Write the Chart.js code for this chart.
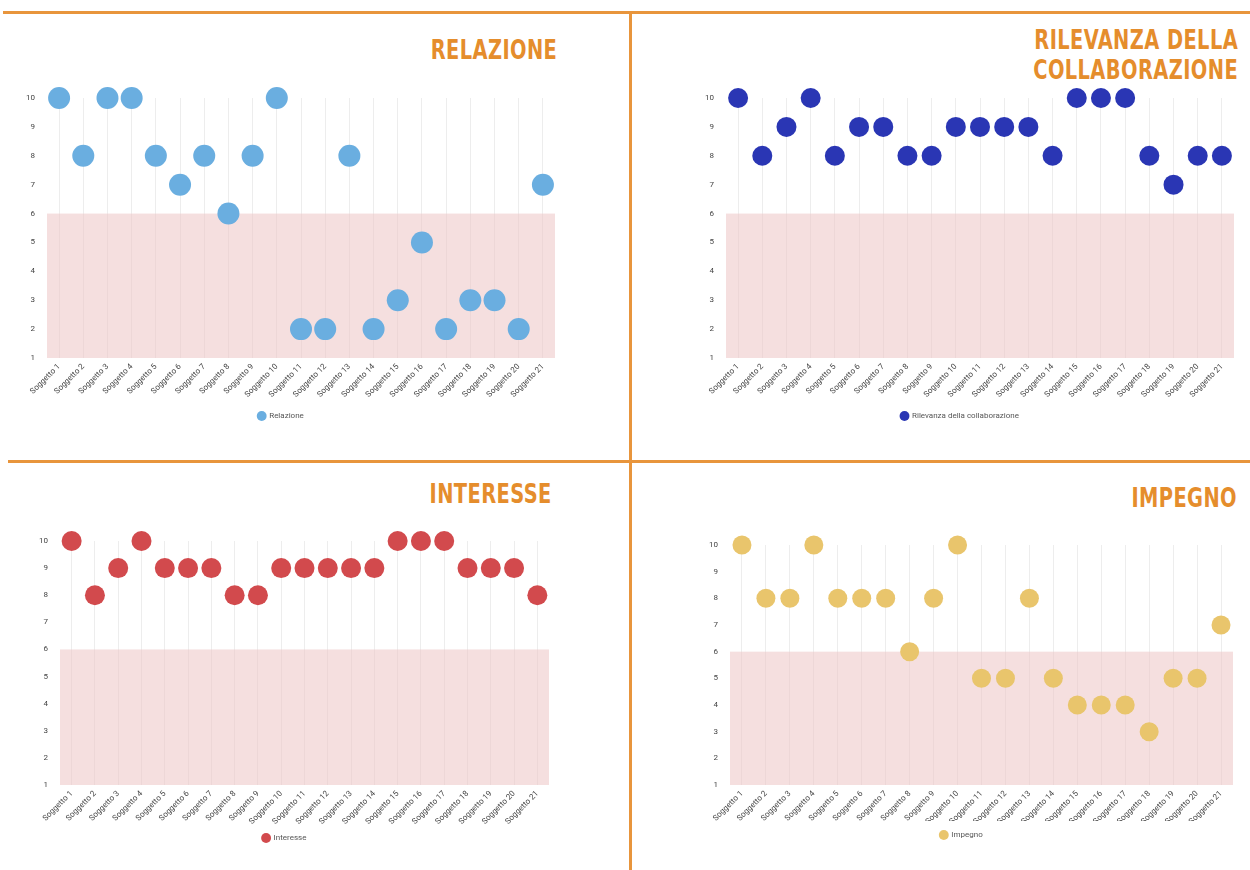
<!DOCTYPE html>
<html><head><meta charset="utf-8">
<script src="https://cdn.jsdelivr.net/npm/chart.js@4.4.1/dist/chart.umd.min.js"></script>
<style>
html,body{margin:0;padding:0;background:#fff;width:1250px;height:870px;overflow:hidden;position:relative;font-family:Roboto,sans-serif}
.line{position:absolute;background:#e8953c}
.title{position:absolute;color:#e58d2c;font-family:"Liberation Sans Narrow","DejaVu Sans Condensed",sans-serif;font-weight:bold;font-size:27px;line-height:30px;text-align:right;letter-spacing:0.5px;transform:scaleX(0.8);transform-origin:right center}
.wrap{position:absolute}
</style></head><body>
<div class="line" style="left:3px;top:11px;width:1247px;height:3px"></div>
<div class="line" style="left:629px;top:11px;width:3px;height:859px"></div>
<div class="line" style="left:8px;top:460px;width:1242px;height:3px"></div>
<div class="title" style="right:693px;top:35px">RELAZIONE</div>
<div class="title" style="right:12px;top:25px">RILEVANZA DELLA<br>COLLABORAZIONE</div>
<div class="title" style="right:698px;top:479px">INTERESSE</div>
<div class="title" style="right:13px;top:483px">IMPEGNO</div>
<div class="wrap" id="w1"><canvas id="c1"></canvas></div>
<div class="wrap" id="w2"><canvas id="c2"></canvas></div>
<div class="wrap" id="w3"><canvas id="c3"></canvas></div>
<div class="wrap" id="w4"><canvas id="c4"></canvas></div>
<script>
const categories = ["Soggetto 1","Soggetto 2","Soggetto 3","Soggetto 4","Soggetto 5","Soggetto 6","Soggetto 7","Soggetto 8","Soggetto 9","Soggetto 10","Soggetto 11","Soggetto 12","Soggetto 13","Soggetto 14","Soggetto 15","Soggetto 16","Soggetto 17","Soggetto 18","Soggetto 19","Soggetto 20","Soggetto 21"];
const relazione = [10,8,10,10,8,7,8,6,8,10,2,2,8,2,3,5,2,3,3,2,7];
const rilevanza = [10,8,9,10,8,9,9,8,8,9,9,9,9,8,10,10,10,8,7,8,8];
const interesse = [10,8,9,10,9,9,9,8,8,9,9,9,9,9,10,10,10,9,9,9,8];
const impegno = [10,8,8,10,8,8,8,6,8,10,5,5,8,5,4,4,4,3,5,5,7];
const seriesNames = ["Relazione","Rilevanza della collaborazione","Interesse","Impegno"];
const yMin = 1, yMax = 10;
const bandLow = 1, bandHigh = 6;

const bandPlugin = {
  id: 'band',
  beforeDatasetsDraw(chart) {
    const {ctx, chartArea, scales} = chart;
    const top = scales.y.getPixelForValue(bandHigh);
    const bot = scales.y.getPixelForValue(bandLow);
    ctx.save();
    ctx.fillStyle = 'rgba(236,196,196,0.55)';
    ctx.fillRect(chartArea.left, top, chartArea.right - chartArea.left, bot - top);
    ctx.restore();
  }
};

function makeChart(id, wrapId, layout, name, values, color, radius) {
  const w = document.getElementById(wrapId);
  const cl = layout.left - 40, ct = layout.top - 20;
  const cw = layout.right - cl + 20;
  const ch = layout.bottom - ct + layout.xh + 28;
  w.style.left = cl + 'px'; w.style.top = ct + 'px';
  w.style.width = cw + 'px'; w.style.height = ch + 'px';
  new Chart(document.getElementById(id), {
    type: 'line',
    data: { labels: categories, datasets: [{
      label: name, data: values, showLine: false,
      backgroundColor: color, borderColor: color, borderWidth: 0,
      pointRadius: radius, pointHoverRadius: radius, pointStyle: 'circle', clip: false
    }]},
    options: {
      responsive: true, maintainAspectRatio: false, animation: false,
      layout: { padding: { left: 0, right: 20, top: 20, bottom: 0 } },
      plugins: {
        tooltip: { enabled: false },
        legend: { position: 'bottom', labels: { usePointStyle: true, pointStyle: 'circle', boxWidth: 7, boxHeight: 7, padding: 10, color: '#555', font: { family: 'Roboto', size: 8 } } }
      },
      scales: {
        x: {
          offset: true,
          grid: { display: true, color: 'rgba(0,0,0,0.07)', drawTicks: false, offset: false },
          border: { display: false },
          ticks: { autoSkip: false, maxRotation: 45, minRotation: 45, color: '#444', font: { family: 'Roboto', size: 8 }, padding: 4 },
          afterFit(s) { s.height = layout.xh; }
        },
        y: {
          min: yMin, max: yMax,
          grid: { display: false },
          border: { display: false },
          ticks: { stepSize: 1, color: '#444', font: { family: 'Roboto', size: 8 }, padding: 4 },
          afterFit(s) { s.width = 40; }
        }
      }
    },
    plugins: [bandPlugin]
  });
}

makeChart('c1','w1',{left:47,right:555,top:98,bottom:358,xh:44}, seriesNames[0], relazione, '#6aaee0', 11);
makeChart('c2','w2',{left:726,right:1234,top:98,bottom:358,xh:44}, seriesNames[1], rilevanza, '#2a36b4', 10);
makeChart('c3','w3',{left:60,right:549,top:541,bottom:785,xh:39}, seriesNames[2], interesse, '#d24a4d', 10);
makeChart('c4','w4',{left:730,right:1233,top:545,bottom:785,xh:36}, seriesNames[3], impegno, '#e9c56c', 9.5);
</script>
</body></html>
